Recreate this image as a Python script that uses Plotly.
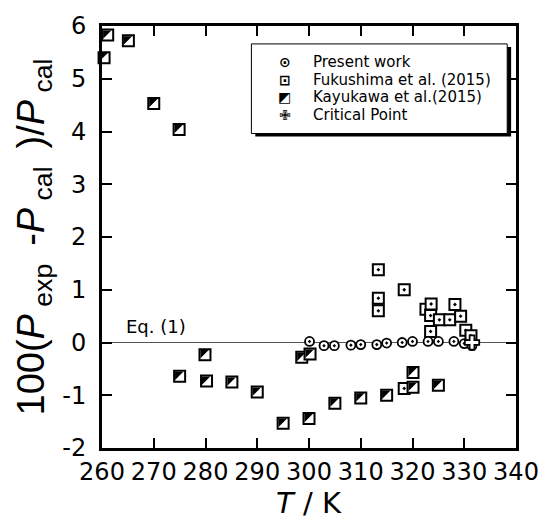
import plotly.graph_objects as go

# ---- data ----
present_T = [300.1, 302.9, 304.9, 308.1, 310.0, 313.1, 315.0, 318.0, 320.0, 323.0, 325.0, 328.0, 330.0, 331.5]
present_d = [0.02, -0.06, -0.06, -0.05, -0.04, -0.04, -0.01, 0.00, 0.02, 0.02, 0.02, 0.02, -0.02, -0.06]

fuku_T = [313.4, 313.4, 313.4, 318.4, 318.4, 322.6, 323.6, 323.5, 325.2, 327.2, 328.2, 329.3, 323.5, 330.3, 331.3]
fuku_d = [1.38, 0.84, 0.60, 1.00, -0.87, 0.63, 0.73, 0.51, 0.43, 0.43, 0.72, 0.50, 0.21, 0.23, 0.13]

kayu_T = [260.4, 261.1, 265.1, 270.0, 274.9, 275.0, 279.9, 280.2, 285.1, 290.0, 295.0,
          298.6, 300.2, 300.0, 305.0, 310.0, 315.0, 320.1, 320.1, 325.0]
kayu_d = [5.40, 5.83, 5.72, 4.53, 4.04, -0.64, -0.23, -0.73, -0.75, -0.94, -1.53,
          -0.28, -0.22, -1.44, -1.15, -1.05, -1.00, -0.85, -0.57, -0.81]

crit_T = [331.5]
crit_d = [0.0]

legend_labels = ["Present work", "Fukushima et al. (2015)", "Kayukawa et al.(2015)", "Critical Point"]
legend_glyphs = ["\u2299", "\u22A1", "\u25E9", "\u2719"]

x_range = [260, 340]
y_range = [-2, 6]
x_ticks = [260, 270, 280, 290, 300, 310, 320, 330, 340]
y_ticks = [-2, -1, 0, 1, 2, 3, 4, 5, 6]
y_ticktext = ["-2", "-1", "0", "1", "2", "3", "4", "5", "6"]

# ---- layout geometry ----
W, H = 551, 520
ml, mr, mt, mb = 102, 25, 24, 72
pw = W - ml - mr
ph = H - mt - mb

sq = 11
tri_r = sq / 2.4
shift_px = sq / 6.0
dx = shift_px * (x_range[1] - x_range[0]) / pw
dy = shift_px * (y_range[1] - y_range[0]) / ph

fig = go.Figure()

fig.add_trace(go.Scatter(
    x=fuku_T, y=fuku_d, mode="markers", name=legend_labels[1], showlegend=False,
    marker=dict(symbol="square-dot", size=sq, color="white", line=dict(color="black", width=2)),
    cliponaxis=False))

fig.add_trace(go.Scatter(
    x=kayu_T, y=kayu_d, mode="markers", name=legend_labels[2], showlegend=False,
    marker=dict(symbol="square", size=sq, color="white", line=dict(color="black", width=2)),
    cliponaxis=False))

fig.add_trace(go.Scatter(
    x=kayu_T, y=kayu_d, mode="markers", name=legend_labels[2] + " fill", showlegend=False,
    xaxis="x2", yaxis="y2",
    marker=dict(symbol="triangle-nw", size=2 * tri_r, color="black", line=dict(width=0)),
    cliponaxis=False))

fig.add_trace(go.Scatter(
    x=present_T, y=present_d, mode="markers", name=legend_labels[0], showlegend=False,
    marker=dict(symbol="circle-dot", size=9, color="white", line=dict(color="black", width=1.8)),
    cliponaxis=False))

fig.add_trace(go.Scatter(
    x=crit_T, y=crit_d, mode="markers", name=legend_labels[3], showlegend=False,
    marker=dict(symbol="cross", size=12, color="white", line=dict(color="black", width=1.8)),
    cliponaxis=False))

axis_common = dict(
    showline=True, linewidth=3, linecolor="black", mirror="ticks",
    ticks="inside", ticklen=10, tickwidth=2, tickcolor="black",
    showgrid=False,
    tickfont=dict(family="DejaVu Sans", size=24, color="black"),
)

NB = "\u00a0"
y_title = ("100(<i>P</i><sub>" + NB + "exp" + NB + "</sub>" + NB + "-<i>P</i><sub>" + NB + "cal" + NB
           + "</sub>" + NB + ")/<i>P</i><sub>" + NB + "cal</sub>")

fig.update_layout(
    width=W, height=H,
    margin=dict(l=ml, r=mr, t=mt, b=mb),
    plot_bgcolor="white", paper_bgcolor="white",
    showlegend=False,
    xaxis=dict(range=x_range, tickvals=x_ticks, zeroline=False, ticklabelstandoff=0,
               **axis_common),
    yaxis=dict(range=y_range, tickvals=y_ticks, ticktext=y_ticktext,
               zeroline=True, zerolinecolor="#555555", zerolinewidth=1, ticklabelstandoff=8,
               title=dict(text=y_title,
                          font=dict(family="Liberation Sans", size=38, color="black"), standoff=6),
               **axis_common),
    xaxis2=dict(range=[x_range[0] + dx, x_range[1] + dx], overlaying="x", visible=False),
    yaxis2=dict(range=[y_range[0] - dy, y_range[1] - dy], overlaying="y", visible=False),
)

def px2x(px):
    return (px - ml) / pw

def py2y(py):
    return (mt + ph - py) / ph

# x-axis title
fig.add_annotation(x=0.5, y=py2y(503), xref="paper", yref="paper", text="<i>T</i> / K",
                   showarrow=False, xanchor="center", yanchor="middle",
                   font=dict(family="DejaVu Sans", size=29, color="black"))

# Eq. (1) label
fig.add_annotation(x=264.3, y=0, xref="x", yref="y", text="Eq. (1)", showarrow=False,
                   xanchor="left", yanchor="bottom", yshift=4,
                   font=dict(family="DejaVu Sans", size=18, color="black"))

# legend box (drawn)
bx0, bx1, by0, by1 = 255, 517, 42, 132
fig.add_shape(type="rect", xref="paper", yref="paper",
              x0=px2x(bx0 + 4), x1=px2x(bx1 + 4), y0=py2y(by1 + 3), y1=py2y(by0 + 3),
              fillcolor="black", line=dict(width=0), layer="above")
fig.add_shape(type="rect", xref="paper", yref="paper",
              x0=px2x(bx0), x1=px2x(bx1), y0=py2y(by1), y1=py2y(by0),
              fillcolor="white", line=dict(color="black", width=1), layer="above")

row_y = [60.5, 78, 95.5, 113]
for lab, gl, ry in zip(legend_labels, legend_glyphs, row_y):
    fig.add_annotation(x=px2x(289), y=py2y(ry), xref="paper", yref="paper", text="<b>" + gl + "</b>",
                       showarrow=False, xanchor="center", yanchor="middle",
                       font=dict(family="DejaVu Sans", size=14, color="black"))
    fig.add_annotation(x=px2x(316), y=py2y(ry), xref="paper", yref="paper", text=lab,
                       showarrow=False, xanchor="left", yanchor="middle",
                       font=dict(family="DejaVu Sans", size=15, color="black"))

fig.write_html("out.html", config={"displayModeBar": False},
               post_script="document.body.style.margin='0';")
